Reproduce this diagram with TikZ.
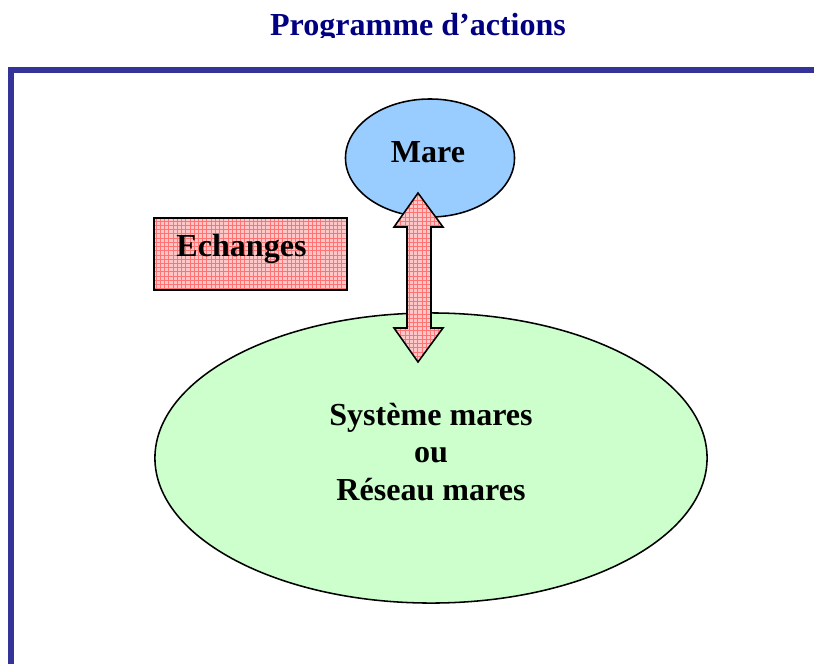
\documentclass[tikz,border=0pt]{standalone}
\usepackage{fontspec}
\setmainfont{Liberation Serif}
\usetikzlibrary{positioning, patterns, calc, shapes.geometric}
\definecolor{titlenavy}{RGB}{0,0,128}
\definecolor{frameblue}{RGB}{51,51,153}
\definecolor{mareblue}{RGB}{153,204,255}
\definecolor{reseaugreen}{RGB}{204,255,204}

\begin{document}
\begin{tikzpicture}[
    x=0.025cm, y=-0.025cm,
    label/.style={font=\fontsize{22.8}{26.6}\selectfont\bfseries, align=center},
    pond/.style={ellipse, draw=black, line width=1.1pt, inner sep=0pt},
    hatched/.style={preaction={fill=red!22}, pattern=grid, pattern color=red!55},
    exchange/.style={draw=black, line width=1.1pt, hatched}
]

\useasboundingbox (0,0) rectangle (814,664);

% Title (cut at the bottom, as in the source page)
\begin{scope}
\clip (0,0) rectangle (814,37);
\node[label, text=titlenavy, anchor=base] (title) at (418,35) {Programme d'actions};
\end{scope}

% Frame
\draw[frameblue, line width=4pt] (814,70) -| (11,664);

% Ponds
\node[pond, fill=mareblue, minimum width=4.225cm, minimum height=2.95cm] (mare) at (430,158) {};
\node[label] (maretxt) at (428,152) {Mare};
\node[pond, fill=reseaugreen, minimum width=13.8cm, minimum height=7.25cm] (reseau) at (431,458) {};
\node[label] (reseautxt) at ($(reseau.center)+(0,-6)$) {Système mares\\ou\\Réseau mares};

% Echanges box
\node[exchange, minimum width=4.825cm, minimum height=1.8cm] (echanges) at (250.5,254) {};
\node[label] (echtxt) at (241.5,249) {Echanges};

% Double arrow between the two ponds
\coordinate (atop) at (418,193);
\coordinate (abot) at (418,362);
\fill[hatched, fill opacity=0.5] (atop) -- ++(25,34) -- ++(-12,0) -- ++(0,101) -- ++(12,0) -- (abot)
  -- ++(-24,-34) -- ++(13,0) -- ++(0,-101) -- ++(-13,0) -- cycle;
\draw[line width=1.1pt] (atop) -- ++(25,34) -- ++(-12,0) -- ++(0,101) -- ++(12,0) -- (abot)
  -- ++(-24,-34) -- ++(13,0) -- ++(0,-101) -- ++(-13,0) -- cycle;

\end{tikzpicture}
\end{document}
